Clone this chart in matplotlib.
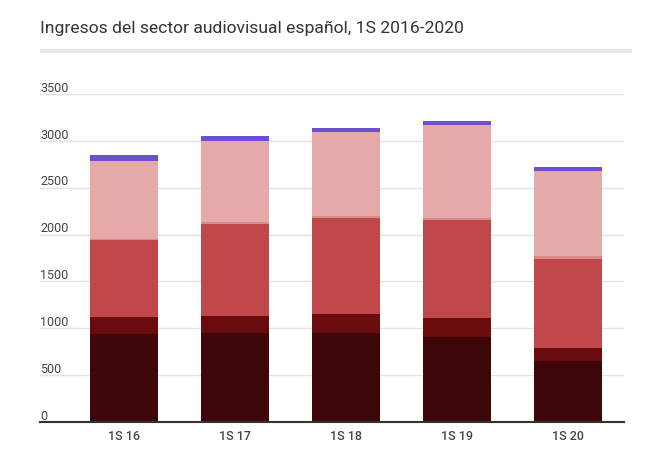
import matplotlib
matplotlib.use("Agg")
import matplotlib.pyplot as plt
from matplotlib.patches import Rectangle
import numpy as np

plt.rcParams['font.family'] = ['Roboto', 'DejaVu Sans']

periods = ['1S 16', '1S 17', '1S 18', '1S 19', '1S 20']

# stacked segments, bottom to top
seg1 = [940, 950, 953, 907, 654]
seg2 = [180, 180, 196, 203, 139]
seg3 = [825, 985, 1025, 1047, 950]
seg4 = [10, 20, 20, 20, 29]
seg5 = [830, 865, 900, 990, 907]
seg6 = [65, 55, 46, 50, 46]

series = [seg1, seg2, seg3, seg4, seg5, seg6]
colors = ['#3d0709', '#6a0c0e', '#c1484a', '#d98a8a', '#e6a9a9', '#6b50d6']

yticks = [0, 500, 1000, 1500, 2000, 2500, 3000, 3500]

fig = plt.figure(figsize=(6.66, 4.49), dpi=100)
W, H = 666, 449
ax = fig.add_axes([40 / W, 1 - 422 / H, (624 - 40) / W, (422 - 94) / H])

x = np.arange(len(periods))
bottom = np.zeros(len(periods))
for vals, c in zip(series, colors):
    ax.bar(x, vals, width=0.62, bottom=bottom, color=c, zorder=3, linewidth=0)
    bottom += np.array(vals)

ax.set_xlim(-84 / 111, 4 + 56 / 111)
ax.set_ylim(0, 3500)

ax.set_yticks(yticks)
ax.yaxis.grid(True, color='#e3e3e3', linewidth=1, zorder=0)
ax.set_yticklabels([])
ax.tick_params(axis='y', length=0)
for v in yticks:
    ax.text(-84 / 111, v + 25, str(v), ha='left', va='baseline',
            fontsize=9, color='#444444', zorder=4)

ax.set_xticks(x)
ax.set_xticklabels(periods, fontsize=9, color='#444444', fontweight='medium')
ax.tick_params(axis='x', length=0, pad=6)

for s in ['top', 'right', 'left']:
    ax.spines[s].set_visible(False)
ax.spines['bottom'].set_color('#333333')
ax.spines['bottom'].set_linewidth(1.5)
ax.spines['bottom'].set_zorder(5)

fig.text(40 / W, 1 - 28 / H, 'Ingresos del sector audiovisual español, 1S 2016-2020',
         fontsize=12.6, color='#333333', va='center', ha='left')
fig.patches.append(Rectangle((40 / W, 1 - 53 / H), (632 - 40) / W, 4 / H,
                             transform=fig.transFigure, color='#e6e6e6', linewidth=0))

fig.savefig('out.png', dpi=100)
